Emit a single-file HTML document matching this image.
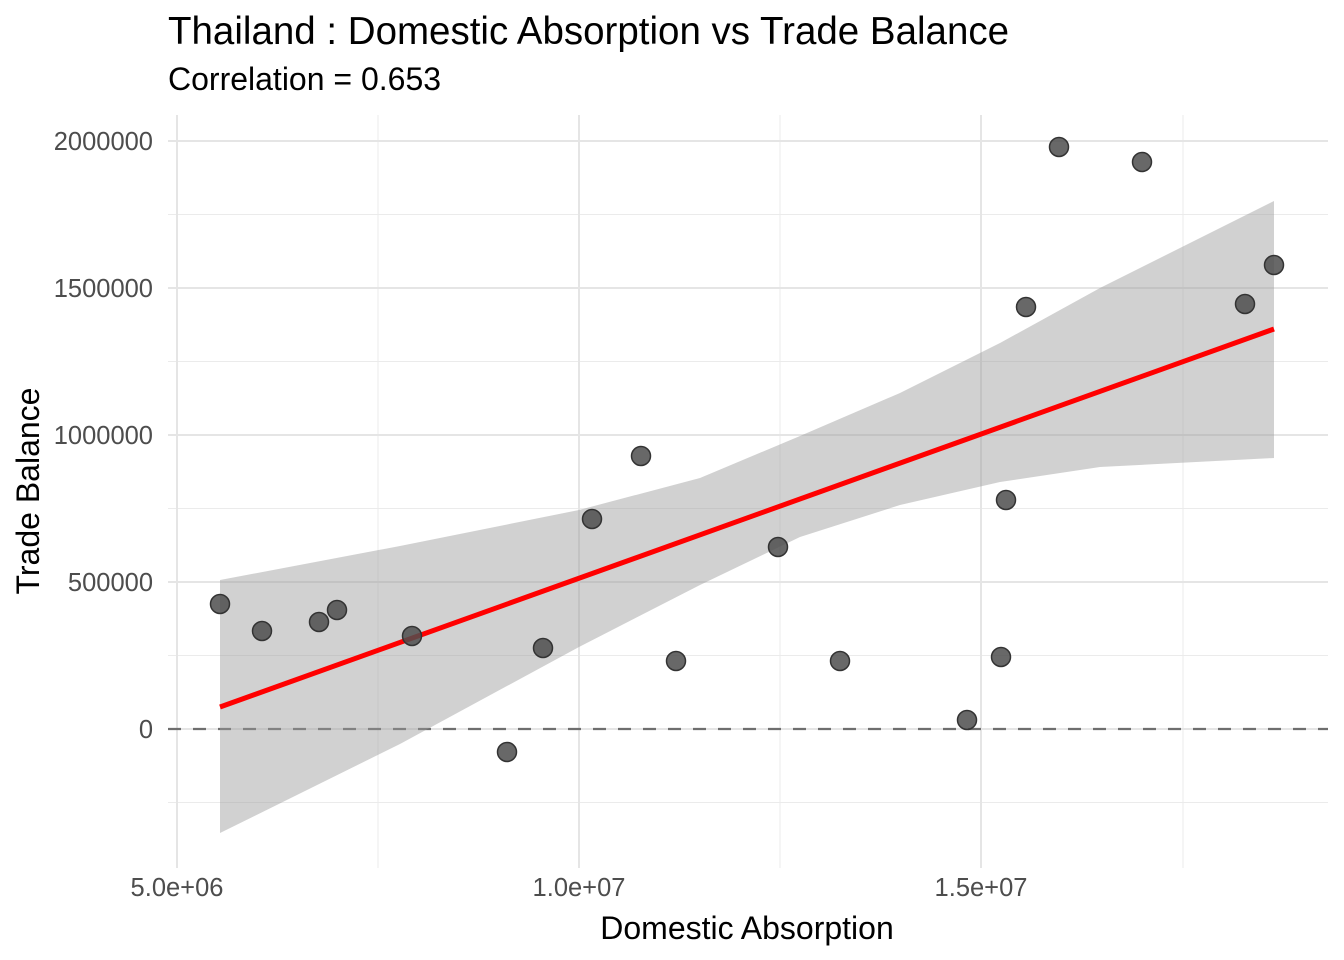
<!DOCTYPE html>
<html><head><style>body{margin:0;background:#fff}svg{display:block}</style></head><body>
<svg width="1344" height="960" xmlns="http://www.w3.org/2000/svg" font-family="'Liberation Sans', Arial, sans-serif">
<rect width="1344" height="960" fill="#fff"/>
<g stroke="#ebebeb" stroke-width="1">
<line x1="168" x2="1328" y1="214.5" y2="214.5"/><line x1="168" x2="1328" y1="361.5" y2="361.5"/><line x1="168" x2="1328" y1="508.5" y2="508.5"/><line x1="168" x2="1328" y1="655.5" y2="655.5"/><line x1="168" x2="1328" y1="802.5" y2="802.5"/>
<line y1="115" y2="868" x1="378" x2="378"/><line y1="115" y2="868" x1="780" x2="780"/><line y1="115" y2="868" x1="1183" x2="1183"/>
</g>
<g stroke="#e5e5e5" stroke-width="2">
<line x1="168" x2="1328" y1="141" y2="141"/><line x1="168" x2="1328" y1="288" y2="288"/><line x1="168" x2="1328" y1="435" y2="435"/><line x1="168" x2="1328" y1="582" y2="582"/><line x1="168" x2="1328" y1="729" y2="729"/>
<line y1="115" y2="868" x1="177" x2="177"/><line y1="115" y2="868" x1="579" x2="579"/><line y1="115" y2="868" x1="981" x2="981"/>
</g>
<line x1="168" x2="1328" y1="729" y2="729" stroke="#6e6e6e" stroke-width="2.2" stroke-dasharray="13,12"/>
<path d="M220,580 L400,546 L579,510 L700,478 L800,436 L900,393 L1000,343 L1100,288 L1274,201 L1274,458 L1100,467 L1000,482 L900,505 L800,537 L700,585 L579,647 L400,744 L220,833 Z" fill="#999" fill-opacity="0.45"/>
<line x1="220" y1="707" x2="1274" y2="329" stroke="#ff0000" stroke-width="5"/>
<g fill="#4d4d4d" fill-opacity="0.85" stroke="#333" stroke-width="1.5">
<circle cx="220" cy="604" r="9.5"/><circle cx="262" cy="631" r="9.5"/><circle cx="319" cy="622" r="9.5"/><circle cx="337" cy="610" r="9.5"/><circle cx="412" cy="636" r="9.5"/><circle cx="507" cy="752" r="9.5"/><circle cx="543" cy="648" r="9.5"/><circle cx="592" cy="519" r="9.5"/><circle cx="641" cy="456" r="9.5"/><circle cx="676" cy="661" r="9.5"/><circle cx="778" cy="547" r="9.5"/><circle cx="840" cy="661" r="9.5"/><circle cx="967" cy="720" r="9.5"/><circle cx="1001" cy="657" r="9.5"/><circle cx="1006" cy="500" r="9.5"/><circle cx="1026" cy="307" r="9.5"/><circle cx="1059" cy="147" r="9.5"/><circle cx="1142" cy="162" r="9.5"/><circle cx="1245" cy="304" r="9.5"/><circle cx="1274" cy="265" r="9.5"/>
</g>
<g fill="#4d4d4d" font-size="25.5" text-anchor="end">
<text x="153" y="150">2000000</text><text x="153" y="297">1500000</text><text x="153" y="444">1000000</text><text x="153" y="591">500000</text><text x="153" y="738">0</text>
</g>
<g fill="#4d4d4d" font-size="25.5" text-anchor="middle">
<text x="177" y="896">5.0e+06</text><text x="579" y="896">1.0e+07</text><text x="981" y="896">1.5e+07</text>
</g>
<text x="747" y="939" font-size="32" text-anchor="middle" fill="#000">Domestic Absorption</text>
<text transform="translate(39,491) rotate(-90)" font-size="32" text-anchor="middle" fill="#000">Trade Balance</text>
<text x="168" y="44" font-size="38.5" fill="#000">Thailand : Domestic Absorption vs Trade Balance</text>
<text x="168" y="90" font-size="32" fill="#000">Correlation = 0.653</text>
</svg>
</body></html>
